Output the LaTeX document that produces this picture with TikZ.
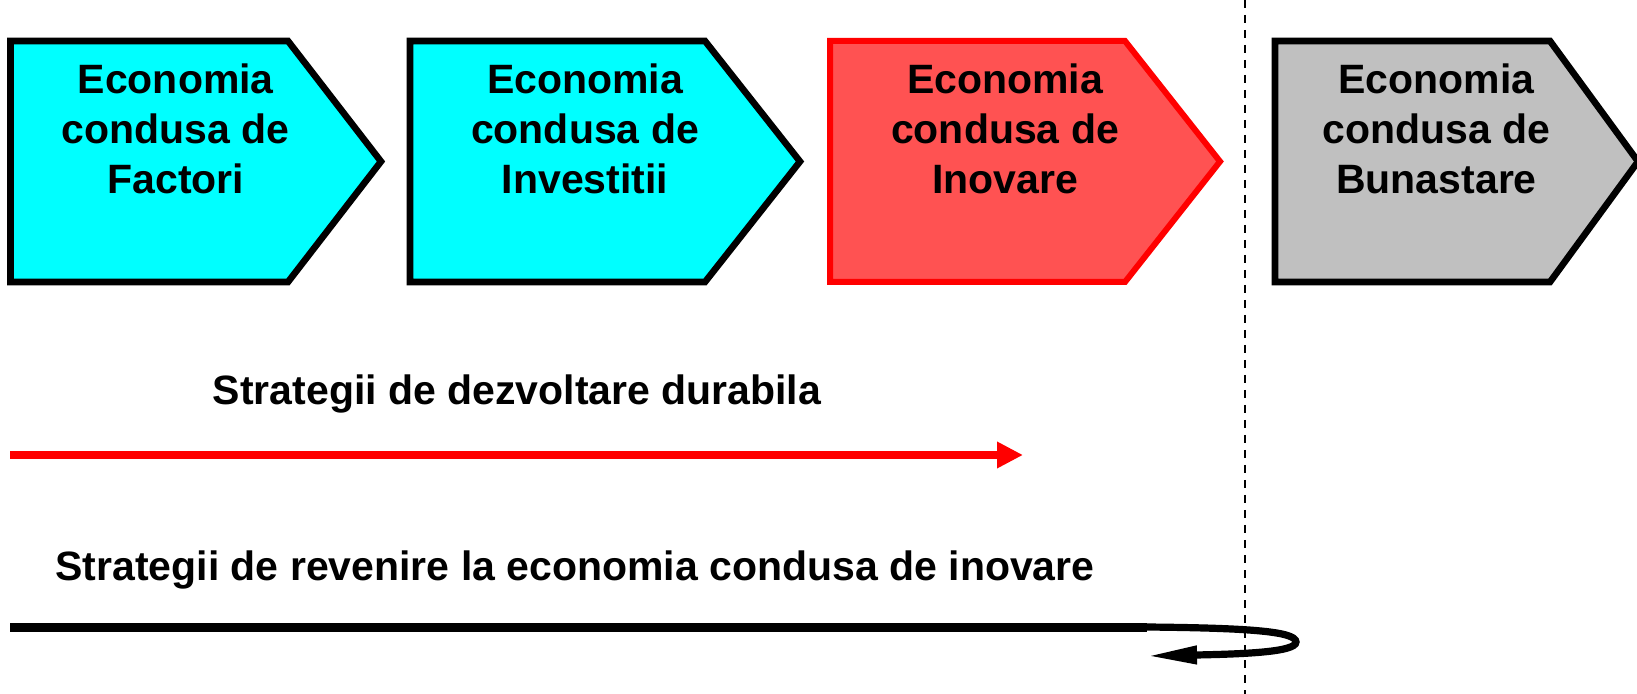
\documentclass[tikz,border=0pt]{standalone}
\usepackage{fontspec}
\setmainfont{Liberation Sans}
\usetikzlibrary{arrows.meta}

\begin{document}
\begin{tikzpicture}[x=0.5pt, y=-0.5pt, every node/.style={font=\fontsize{20.5}{25}\selectfont\bfseries}]
  % -----------------------------
  % USER SETTINGS
  % -----------------------------
  \def\yT{41}    % top edge of the boxes
  \def\yB{282}   % bottom edge of the boxes
  \def\yL{129}   % centre of the box labels
  \def\xV{1245}  % dashed separator

  % -----------------------------
  % STYLES
  % -----------------------------
  \tikzset{
    boxc/.style={draw=black, fill={rgb,255:red,0;green,255;blue,255}, line width=3.3pt},
    boxr/.style={draw={rgb,255:red,255;green,0;blue,0}, fill={rgb,255:red,255;green,82;blue,82}, line width=3pt},
    boxg/.style={draw=black, fill={rgb,255:red,192;green,192;blue,192}, line width=3.3pt},
    lab/.style={align=center, inner sep=0pt},
    stlab/.style={anchor=base, inner sep=0pt},
    arrr/.style={draw={rgb,255:red,255;green,0;blue,0}, line width=4pt, -{Triangle[length=13pt, width=12.5pt]}},
    arrk/.style={draw=black, line width=4.5pt},
    curl/.style={draw=black, line width=3.6pt, -{Triangle[length=25pt, width=8.5pt]}},
    vline/.style={line width=1pt, dash pattern=on 4pt off 3.5pt},
  }

  \useasboundingbox (0,0) rectangle (1637,694);

  % -----------------------------
  % SEPARATOR
  % -----------------------------
  \draw[vline] (\xV,0) -- (\xV,694);

  % -----------------------------
  % STAGE BOXES + LABELS
  % -----------------------------
  \foreach \xl/\xs/\xt/\st/\nm/\txt in {10.5/288/381/boxc/F/Factori,
                                        410/705/800/boxc/I/Investitii,
                                        830/1125/1220/boxr/N/Inovare,
                                        1275/1550/1638/boxg/B/Bunastare} {
    \draw[\st] (\xl,\yT) -- (\xs,\yT) -- (\xt,{(\yT+\yB)/2}) -- (\xs,\yB) -- (\xl,\yB) -- cycle;
    \node[lab] (box\nm) at ({(\xl+\xt)/2-20},\yL) {Economia\\condusa de\\\txt};
  }

  % -----------------------------
  % STRATEGIES
  % -----------------------------
  \node[stlab] (sdd) at (517,405) {Strategii de dezvoltare durabila};
  \coordinate (rA) at (10,455);
  \coordinate (rB) at (1023,455);
  \draw[arrr] (rA) -- (rB);

  \node[stlab] (sri) at (575,580) {Strategii de revenire la economia condusa de inovare};
  \coordinate (kA) at (10,627);
  \coordinate (kB) at (1147,627);
  \coordinate (kC) at (1147,656);
  \draw[arrk] (kA) -- (kB);
  \draw[curl] (kB) .. controls (1245,628) and (1296,631) .. (1296,642)
                   .. controls (1296,652) and (1245,654) .. (kC);
\end{tikzpicture}
\end{document}
